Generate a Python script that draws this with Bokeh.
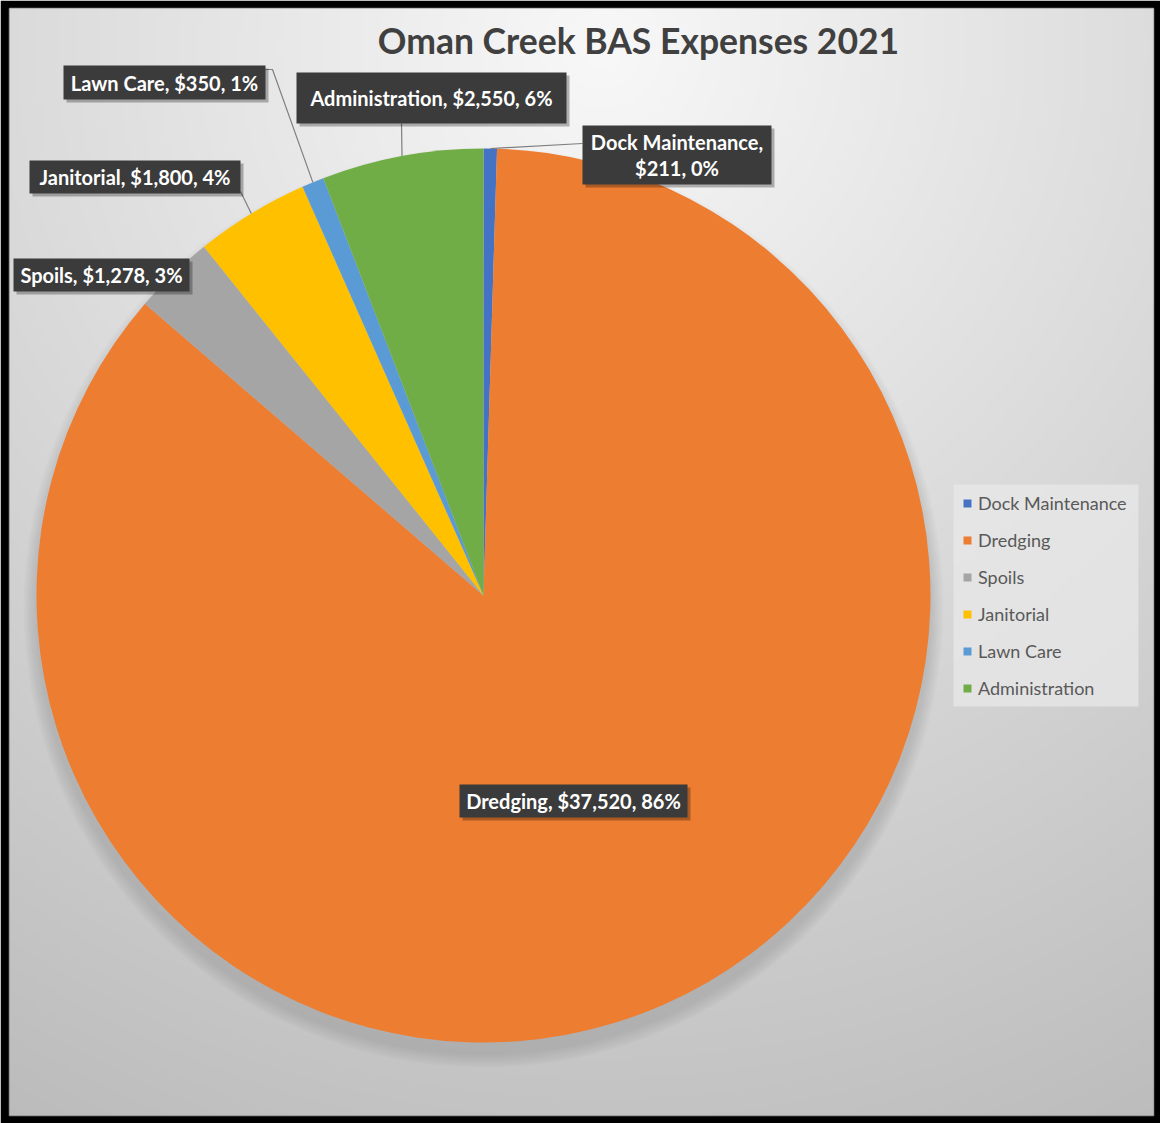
import numpy as np
from bokeh.plotting import figure
from bokeh.models import Range1d, Legend, LegendItem, ColumnDataSource
from bokeh.core.properties import value
from bokeh.embed import file_html
from bokeh.resources import INLINE

# ---------------- data ----------------
categories = ["Dock Maintenance", "Dredging", "Spoils", "Janitorial", "Lawn Care", "Administration"]
amounts = [211, 37520, 1278, 1800, 350, 2550]
colors = ["#4472C4", "#ED7D31", "#A5A5A5", "#FFC000", "#5B9BD5", "#70AD47"]
title_text = "Oman Creek BAS Expenses 2021"

# ---------------- layout helpers (reference pixel -> data) ----------------
PW, PH = 1160, 1123
BL, BR, BT, BB = 9, 7, 8, 8
W, H = PW - BL - BR, PH - BT - BB


def px(X):
    return X - BL


def py(Y):
    return (PH - BB) - Y


CX, CY, R = px(483), py(595), 447

total = sum(amounts)
fracs = np.array(amounts, dtype=float) / total
cum = np.concatenate([[0.0], np.cumsum(fracs)])
start = np.pi / 2 - 2 * np.pi * cum[:-1]
end = np.pi / 2 - 2 * np.pi * cum[1:]
mid = (start + end) / 2

labels = []
for c, a in zip(categories, amounts):
    pct = int(round(100.0 * a / total))
    if c == "Dock Maintenance":
        labels.append(f"{c},\n${a:,}, {pct}%")
    else:
        labels.append(f"{c}, ${a:,}, {pct}%")

# label boxes in reference pixels: left, right, top, bottom
boxes = {
    "Dock Maintenance": (582, 771, 125, 184),
    "Dredging": (459, 687, 784, 817),
    "Spoils": (13, 189, 258, 291),
    "Janitorial": (29, 240, 160, 193),
    "Lawn Care": (63, 265, 65, 99),
    "Administration": (296, 566, 72, 123),
}
leaders = {
    "Dock Maintenance": [(582, 143)],
    "Janitorial": [(240, 191)],
    "Lawn Care": [(265, 69), (272, 69)],
    "Administration": [(401, 123)],
}

p = figure(width=PW, height=PH, x_range=Range1d(0, W), y_range=Range1d(0, H),
           x_axis_type=None, y_axis_type=None, toolbar_location=None,
           output_backend="svg", min_border_left=BL, min_border_right=BR,
           min_border_top=BT, min_border_bottom=BB, border_fill_color="black")
p.outline_line_color = "#8f8f8f"
p.outline_line_width = 1.5

# background radial gradient
step = 4
hh, ww = H // step + 1, W // step + 1
yy, xx = np.mgrid[0:hh, 0:ww]
d = np.hypot(xx * step - px(600), yy * step - py(50))
v = np.clip(248 - 52 * d / 1050, 185, 250).astype(np.uint32)
img = (np.uint32(255) << 24) | (v << 16) | (v << 8) | v
p.image_rgba(image=[img], x=0, y=0, dw=ww * step, dh=hh * step)

# pie shadow
for i in range(7):
    p.circle(x=[CX], y=[CY - 12], radius=R + 1 + i * 2, fill_color="black",
             fill_alpha=0.017, line_color=None)

src = ColumnDataSource(dict(cat=categories, amt=amounts, color=colors,
                            start=start, end=end))
r = p.wedge(x=CX, y=CY, radius=R, start_angle="start", end_angle="end",
            direction="clock", fill_color="color", line_color=None, source=src)

# leader lines
for i, c in enumerate(categories):
    if c in leaders:
        ex = CX + R * np.cos(mid[i])
        ey = CY + R * np.sin(mid[i])
        pts = leaders[c]
        xs = [px(a) for a, b in pts] + [ex]
        ys = [py(b) for a, b in pts] + [ey]
        p.line(xs, ys, line_color="#7f7f7f", line_width=1.2)

# label boxes
for i, c in enumerate(categories):
    l, rr, t, b = boxes[c]
    p.quad(left=px(l) + 3, right=px(rr) + 3, top=py(t) - 3, bottom=py(b) - 3,
           fill_color="black", fill_alpha=0.28, line_color=None)
    p.quad(left=px(l), right=px(rr), top=py(t), bottom=py(b),
           fill_color="#3b3b3b", line_color=None)
    p.text(x=[px((l + rr) / 2)], y=[py((t + b) / 2)], text=[labels[i]],
           text_font=value("Lato"), text_font_style="bold", text_font_size="20px",
           text_color="white", text_align="center", text_baseline="middle",
           text_line_height=1.1)

# title
p.text(x=[px(638)], y=[py(40)], text=[title_text], text_font=value("Lato"),
       text_font_style="bold", text_font_size="35.5px", text_color="#404040",
       text_align="center", text_baseline="middle")

# legend background panel
p.quad(left=px(953), right=px(1138), top=py(484), bottom=py(706),
       fill_color="#e8e8e8", fill_alpha=0.75, line_color=None)

items = [LegendItem(label=c, renderers=[r], index=i) for i, c in enumerate(categories)]
legend = Legend(items=items, location=(px(962), py(699)),
                glyph_width=10, glyph_height=10, label_height=22,
                label_standoff=6, padding=11, spacing=15, margin=0,
                label_text_font="Lato", label_text_font_size="18px",
                label_text_color="#595959",
                background_fill_alpha=0.0, border_line_color=None)
p.add_layout(legend)

open("out.html", "w").write(file_html(p, INLINE, title=title_text))
